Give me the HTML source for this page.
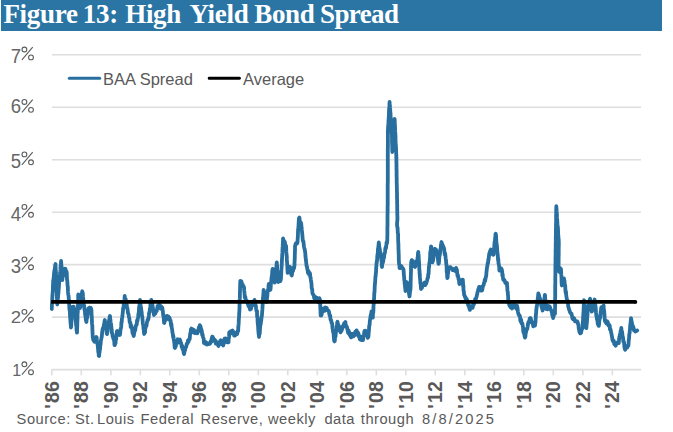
<!DOCTYPE html>
<html><head><meta charset="utf-8"><style>
html,body{margin:0;padding:0;background:#fff;}
body{width:673px;height:432px;position:relative;overflow:hidden;font-family:"Liberation Sans",sans-serif;}
.bar{position:absolute;left:1px;top:0;width:661px;height:31px;background:#2A75A4;}
.title{position:absolute;left:3px;top:-0.6px;font-family:"Liberation Serif",serif;font-weight:bold;font-size:27px;letter-spacing:-0.3px;color:#fff;white-space:nowrap;line-height:30px;}
svg{position:absolute;left:0;top:0;}
.yd{position:absolute;left:0;width:21.2px;text-align:right;font-size:16px;line-height:16px;height:16px;color:#666;transform-origin:21.2px 0;}
.yp{position:absolute;left:21.3px;font-size:18.5px;line-height:18.5px;height:18.5px;color:#5a5a5a;transform:scaleX(0.8);transform-origin:0 0;}
.xl{position:absolute;top:365.2px;width:60px;height:60px;line-height:60px;text-align:center;transform:rotate(-90deg);font-size:19.5px;font-weight:bold;color:#595959;}
.lg{position:absolute;top:68.5px;font-size:16.5px;line-height:20px;color:#595959;white-space:nowrap;}
.sw{position:absolute;top:409px;font-size:14.7px;letter-spacing:0.5px;line-height:20px;color:#595959;white-space:nowrap;}
</style></head><body>
<div class="bar"></div>
<span class="title" style="left:3.40px">Figure</span><span class="title" style="left:82.80px">13:</span><span class="title" style="left:125.20px">High</span><span class="title" style="left:189.40px">Yield</span><span class="title" style="left:254.20px">Bond</span><span class="title" style="left:320.00px;letter-spacing:-0.6px">Spread</span>
<svg width="673" height="432" viewBox="0 0 673 432">
<line x1="52" y1="317.13" x2="641" y2="317.13" stroke="#DEDEDE" stroke-width="1.6"/><line x1="52" y1="264.66" x2="641" y2="264.66" stroke="#DEDEDE" stroke-width="1.6"/><line x1="52" y1="212.19" x2="641" y2="212.19" stroke="#DEDEDE" stroke-width="1.6"/><line x1="52" y1="159.72" x2="641" y2="159.72" stroke="#DEDEDE" stroke-width="1.6"/><line x1="52" y1="107.25" x2="641" y2="107.25" stroke="#DEDEDE" stroke-width="1.6"/><line x1="52" y1="54.78" x2="641" y2="54.78" stroke="#DEDEDE" stroke-width="1.6"/>
<circle cx="24.4" cy="364.30" r="2.4" fill="none" stroke="#5a5a5a" stroke-width="1.1"/><circle cx="31" cy="372.20" r="2.4" fill="none" stroke="#5a5a5a" stroke-width="1.1"/><line x1="21.9" y1="374.70" x2="32.7" y2="362.00" stroke="#5a5a5a" stroke-width="1.1"/><circle cx="24.4" cy="311.83" r="2.4" fill="none" stroke="#5a5a5a" stroke-width="1.1"/><circle cx="31" cy="319.73" r="2.4" fill="none" stroke="#5a5a5a" stroke-width="1.1"/><line x1="21.9" y1="322.23" x2="32.7" y2="309.53" stroke="#5a5a5a" stroke-width="1.1"/><circle cx="24.4" cy="259.36" r="2.4" fill="none" stroke="#5a5a5a" stroke-width="1.1"/><circle cx="31" cy="267.26" r="2.4" fill="none" stroke="#5a5a5a" stroke-width="1.1"/><line x1="21.9" y1="269.76" x2="32.7" y2="257.06" stroke="#5a5a5a" stroke-width="1.1"/><circle cx="24.4" cy="206.89" r="2.4" fill="none" stroke="#5a5a5a" stroke-width="1.1"/><circle cx="31" cy="214.79" r="2.4" fill="none" stroke="#5a5a5a" stroke-width="1.1"/><line x1="21.9" y1="217.29" x2="32.7" y2="204.59" stroke="#5a5a5a" stroke-width="1.1"/><circle cx="24.4" cy="154.42" r="2.4" fill="none" stroke="#5a5a5a" stroke-width="1.1"/><circle cx="31" cy="162.32" r="2.4" fill="none" stroke="#5a5a5a" stroke-width="1.1"/><line x1="21.9" y1="164.82" x2="32.7" y2="152.12" stroke="#5a5a5a" stroke-width="1.1"/><circle cx="24.4" cy="101.95" r="2.4" fill="none" stroke="#5a5a5a" stroke-width="1.1"/><circle cx="31" cy="109.85" r="2.4" fill="none" stroke="#5a5a5a" stroke-width="1.1"/><line x1="21.9" y1="112.35" x2="32.7" y2="99.65" stroke="#5a5a5a" stroke-width="1.1"/><circle cx="24.4" cy="49.48" r="2.4" fill="none" stroke="#5a5a5a" stroke-width="1.1"/><circle cx="31" cy="57.38" r="2.4" fill="none" stroke="#5a5a5a" stroke-width="1.1"/><line x1="21.9" y1="59.88" x2="32.7" y2="47.18" stroke="#5a5a5a" stroke-width="1.1"/>
<line x1="52" y1="369.6" x2="641" y2="369.6" stroke="#DEDEDE" stroke-width="1.6"/>
<line x1="51.80" y1="369.6" x2="51.80" y2="375.3" stroke="#DEDEDE" stroke-width="1.6"/><line x1="81.30" y1="369.6" x2="81.30" y2="375.3" stroke="#DEDEDE" stroke-width="1.6"/><line x1="110.80" y1="369.6" x2="110.80" y2="375.3" stroke="#DEDEDE" stroke-width="1.6"/><line x1="140.30" y1="369.6" x2="140.30" y2="375.3" stroke="#DEDEDE" stroke-width="1.6"/><line x1="169.80" y1="369.6" x2="169.80" y2="375.3" stroke="#DEDEDE" stroke-width="1.6"/><line x1="199.30" y1="369.6" x2="199.30" y2="375.3" stroke="#DEDEDE" stroke-width="1.6"/><line x1="228.80" y1="369.6" x2="228.80" y2="375.3" stroke="#DEDEDE" stroke-width="1.6"/><line x1="258.30" y1="369.6" x2="258.30" y2="375.3" stroke="#DEDEDE" stroke-width="1.6"/><line x1="287.80" y1="369.6" x2="287.80" y2="375.3" stroke="#DEDEDE" stroke-width="1.6"/><line x1="317.30" y1="369.6" x2="317.30" y2="375.3" stroke="#DEDEDE" stroke-width="1.6"/><line x1="346.80" y1="369.6" x2="346.80" y2="375.3" stroke="#DEDEDE" stroke-width="1.6"/><line x1="376.30" y1="369.6" x2="376.30" y2="375.3" stroke="#DEDEDE" stroke-width="1.6"/><line x1="405.80" y1="369.6" x2="405.80" y2="375.3" stroke="#DEDEDE" stroke-width="1.6"/><line x1="435.30" y1="369.6" x2="435.30" y2="375.3" stroke="#DEDEDE" stroke-width="1.6"/><line x1="464.80" y1="369.6" x2="464.80" y2="375.3" stroke="#DEDEDE" stroke-width="1.6"/><line x1="494.30" y1="369.6" x2="494.30" y2="375.3" stroke="#DEDEDE" stroke-width="1.6"/><line x1="523.80" y1="369.6" x2="523.80" y2="375.3" stroke="#DEDEDE" stroke-width="1.6"/><line x1="553.30" y1="369.6" x2="553.30" y2="375.3" stroke="#DEDEDE" stroke-width="1.6"/><line x1="582.80" y1="369.6" x2="582.80" y2="375.3" stroke="#DEDEDE" stroke-width="1.6"/><line x1="612.30" y1="369.6" x2="612.30" y2="375.3" stroke="#DEDEDE" stroke-width="1.6"/>
<path d="M51.8,309.0 L51.9,305.6 L52.0,303.2 L52.1,302.3 L52.2,300.7 L52.3,298.4 L52.4,295.0 L52.5,295.7 L52.7,291.4 L52.8,292.1 L52.9,287.9 L53.0,284.5 L53.1,283.3 L53.2,280.6 L53.3,280.0 L53.5,279.4 L53.8,276.8 L54.0,274.2 L54.3,271.2 L54.5,270.0 L54.8,269.1 L55.0,267.9 L55.3,265.0 L55.5,264.0 L55.6,266.8 L55.7,268.3 L55.8,271.5 L55.9,271.3 L56.0,272.7 L56.0,277.1 L56.1,278.1 L56.2,280.8 L56.3,282.5 L56.4,283.5 L56.5,286.6 L56.6,288.1 L56.7,292.0 L56.8,293.0 L56.8,295.1 L56.9,298.3 L57.0,297.6 L57.1,301.1 L57.2,302.3 L57.3,304.5 L57.5,301.1 L57.6,301.6 L57.8,297.7 L58.0,298.1 L58.1,294.6 L58.3,294.3 L58.5,292.2 L58.7,288.6 L58.8,288.4 L59.0,285.0 L59.2,281.7 L59.4,280.0 L59.5,278.9 L59.7,276.1 L59.9,274.7 L60.0,273.3 L60.2,271.7 L60.4,269.4 L60.6,265.3 L60.8,266.1 L60.9,264.1 L61.1,261.0 L61.2,262.7 L61.4,265.7 L61.5,265.7 L61.6,268.2 L61.8,269.9 L61.9,272.3 L62.0,275.3 L62.2,279.3 L62.3,280.0 L62.6,277.1 L62.9,276.3 L63.2,273.9 L63.6,275.6 L63.9,272.1 L64.2,269.1 L64.5,269.0 L65.0,268.7 L65.5,269.0 L66.0,272.6 L66.5,271.5 L66.7,272.2 L66.8,273.7 L67.0,279.3 L67.2,280.3 L67.3,281.0 L67.5,284.6 L67.7,286.6 L67.8,286.5 L68.0,291.4 L68.1,292.7 L68.3,294.5 L68.5,295.7 L68.6,295.8 L68.8,299.6 L69.0,300.8 L69.1,304.3 L69.3,305.4 L69.4,309.4 L69.6,309.0 L69.7,310.5 L69.9,312.4 L70.1,317.1 L70.2,317.5 L70.4,320.7 L70.5,322.1 L70.7,324.6 L70.8,325.4 L71.0,327.5 L71.2,326.5 L71.3,324.5 L71.5,321.0 L71.6,321.0 L71.8,316.0 L71.9,313.9 L72.0,314.3 L72.2,312.3 L72.3,309.6 L72.5,307.0 L73.1,307.9 L73.7,306.7 L74.2,309.8 L74.8,310.0 L75.0,313.5 L75.2,315.2 L75.3,314.6 L75.5,316.8 L75.7,319.8 L75.9,321.0 L76.1,324.8 L76.3,325.0 L76.5,328.6 L76.6,330.5 L76.8,330.9 L77.0,332.7 L77.1,328.9 L77.1,327.5 L77.2,327.8 L77.3,324.5 L77.3,322.8 L77.4,320.6 L77.5,319.6 L77.5,316.8 L77.6,313.7 L77.7,312.5 L77.8,311.5 L77.8,308.2 L77.9,306.4 L78.0,305.1 L78.0,302.5 L78.1,302.0 L78.2,299.8 L78.2,295.4 L78.3,294.3 L78.5,297.9 L78.8,296.8 L79.0,300.0 L79.3,301.1 L79.5,304.7 L79.8,307.6 L80.0,308.0 L80.3,307.0 L80.5,302.9 L80.8,304.2 L81.0,302.3 L81.3,298.7 L81.5,298.1 L81.8,294.8 L82.0,292.5 L82.3,291.3 L82.5,292.5 L82.8,293.2 L83.0,296.7 L83.2,298.1 L83.4,300.7 L83.7,304.4 L83.9,306.2 L84.1,305.4 L84.4,309.2 L84.6,310.0 L84.9,310.6 L85.2,315.6 L85.5,315.1 L85.8,319.6 L86.1,320.8 L86.4,322.0 L86.7,318.4 L86.9,317.9 L87.2,317.9 L87.5,315.5 L87.8,313.8 L88.0,311.9 L88.3,308.6 L88.8,308.1 L89.3,310.5 L89.8,307.5 L90.3,308.1 L90.8,307.9 L91.3,309.3 L91.4,310.2 L91.5,312.5 L91.6,314.5 L91.7,316.0 L91.8,317.4 L91.9,319.4 L92.0,323.4 L92.2,325.1 L92.3,325.7 L92.4,329.0 L92.5,332.5 L92.6,333.2 L92.7,337.0 L92.8,337.2 L93.3,340.0 L93.9,340.7 L94.4,341.7 L94.9,339.9 L95.4,337.9 L95.9,339.1 L96.4,337.0 L96.7,337.6 L96.9,342.1 L97.2,343.3 L97.5,343.6 L97.8,346.3 L98.0,348.2 L98.3,352.1 L98.6,352.4 L98.8,355.9 L99.1,356.0 L99.3,353.5 L99.6,351.7 L99.8,350.3 L100.1,348.4 L100.3,345.5 L100.6,344.1 L100.8,340.8 L101.1,339.7 L101.3,338.9 L101.6,337.4 L101.8,336.4 L102.1,333.0 L102.4,330.7 L102.8,328.4 L103.1,328.7 L103.4,327.8 L103.8,325.4 L104.1,324.4 L104.5,321.7 L104.8,320.0 L105.1,323.0 L105.3,324.7 L105.6,326.7 L105.9,327.7 L106.2,327.0 L106.5,330.0 L106.7,333.5 L107.0,334.0 L107.3,332.7 L107.6,331.1 L107.9,326.7 L108.2,327.7 L108.5,325.1 L108.8,321.6 L109.1,320.5 L109.4,318.7 L109.7,316.7 L110.0,316.0 L110.2,319.7 L110.4,319.3 L110.6,322.4 L110.8,324.0 L111.1,323.8 L111.3,326.4 L111.5,328.5 L111.7,329.3 L111.9,333.0 L112.3,333.6 L112.7,336.7 L113.0,336.7 L113.4,338.9 L113.8,339.1 L114.2,340.9 L114.5,345.2 L114.9,345.0 L115.2,343.1 L115.5,343.3 L115.8,338.9 L116.1,339.7 L116.3,336.6 L116.6,334.6 L116.9,331.4 L117.2,331.0 L117.7,331.8 L118.3,333.4 L118.8,334.9 L119.4,332.4 L119.9,335.0 L120.2,333.0 L120.4,330.4 L120.7,328.6 L120.9,328.6 L121.2,326.4 L121.4,322.0 L121.7,322.4 L121.9,318.8 L122.2,317.3 L122.4,315.8 L122.6,314.2 L122.9,311.6 L123.1,308.1 L123.3,309.2 L123.6,307.6 L123.8,303.0 L124.0,300.8 L124.2,301.7 L124.5,299.2 L124.7,296.0 L125.0,299.2 L125.4,299.5 L125.7,299.2 L126.0,302.4 L126.3,304.8 L126.7,304.1 L127.0,307.5 L127.3,307.8 L127.7,310.2 L128.0,313.4 L128.3,313.3 L128.7,315.1 L129.0,317.1 L129.3,317.9 L129.7,322.4 L130.0,322.5 L130.4,322.8 L130.7,327.1 L131.1,325.2 L131.5,326.3 L131.8,327.7 L132.2,329.7 L132.6,333.4 L133.0,333.0 L133.3,334.7 L133.7,336.0 L134.1,333.8 L134.4,332.0 L134.8,329.9 L135.2,330.3 L135.6,327.1 L135.9,325.7 L136.3,324.9 L136.7,324.9 L137.1,320.2 L137.4,321.2 L137.8,318.8 L138.2,317.3 L138.4,313.5 L138.6,315.1 L138.8,312.9 L139.0,308.7 L139.2,306.4 L139.4,306.5 L139.6,304.7 L139.8,302.9 L140.0,300.0 L140.2,302.1 L140.5,304.9 L140.7,307.3 L140.9,306.8 L141.2,308.5 L141.4,312.1 L141.6,311.6 L141.9,315.4 L142.1,315.9 L142.3,317.0 L142.6,320.6 L142.8,323.2 L143.0,324.5 L143.3,325.5 L143.5,329.1 L143.7,328.4 L144.0,332.8 L144.2,334.0 L144.6,331.6 L145.0,332.6 L145.3,327.7 L145.7,327.7 L146.1,325.4 L146.5,325.9 L146.9,322.4 L147.3,321.3 L147.7,319.5 L148.0,320.0 L148.4,319.2 L148.8,316.0 L149.1,313.0 L149.4,312.1 L149.6,312.4 L149.9,308.5 L150.2,308.9 L150.5,303.6 L150.7,303.2 L151.0,303.2 L151.3,300.0 L151.6,303.6 L151.9,302.7 L152.2,306.7 L152.5,304.9 L152.8,307.9 L153.1,309.4 L153.4,309.8 L153.7,312.8 L154.0,315.0 L154.4,312.7 L154.9,312.1 L155.3,313.5 L155.8,311.1 L156.2,310.4 L156.7,311.2 L157.2,308.2 L157.6,306.0 L158.1,308.1 L158.5,306.0 L159.0,304.5 L159.6,304.9 L160.1,305.8 L160.7,308.5 L161.2,306.4 L161.8,308.0 L162.3,307.8 L162.6,310.5 L162.8,310.7 L163.1,314.5 L163.3,315.9 L163.6,315.5 L163.8,319.1 L164.1,322.8 L164.3,323.0 L164.7,320.9 L165.1,320.6 L165.6,318.3 L166.0,319.2 L166.4,318.2 L166.8,316.0 L167.3,316.0 L167.9,316.8 L168.4,316.4 L169.0,319.6 L169.5,317.6 L170.1,320.1 L170.6,320.6 L170.9,324.1 L171.2,325.8 L171.4,324.0 L171.7,327.3 L172.0,328.8 L172.2,330.3 L172.5,333.0 L172.8,334.0 L173.1,337.1 L173.4,336.1 L173.6,338.5 L173.9,340.5 L174.2,341.6 L174.4,343.5 L174.7,347.7 L175.0,348.0 L175.4,345.5 L175.8,346.3 L176.2,341.6 L176.6,340.8 L177.1,341.4 L177.7,339.3 L178.2,342.0 L178.7,342.4 L179.2,340.0 L179.8,339.6 L180.3,340.8 L180.7,342.4 L181.1,343.0 L181.4,344.6 L181.8,347.1 L182.2,345.9 L182.6,349.2 L183.0,349.5 L183.3,350.2 L183.7,353.1 L184.1,354.0 L184.5,351.4 L185.0,350.4 L185.4,348.4 L185.8,347.0 L186.2,346.9 L186.7,343.7 L187.1,343.8 L187.6,343.1 L188.0,340.4 L188.5,341.8 L188.9,339.4 L189.4,339.3 L189.7,339.1 L190.0,335.6 L190.3,333.1 L190.6,333.3 L190.9,329.5 L191.4,328.6 L191.9,328.9 L192.4,331.8 L192.9,331.8 L193.4,332.2 L193.9,329.8 L194.4,331.5 L194.9,333.1 L195.4,332.3 L195.9,332.1 L196.4,331.5 L196.9,332.6 L197.4,333.3 L197.9,330.7 L198.4,331.5 L198.8,327.4 L199.3,329.7 L199.8,325.2 L200.3,326.0 L200.7,327.1 L201.0,329.5 L201.4,329.3 L201.8,331.1 L202.2,335.0 L202.5,334.1 L202.9,336.4 L203.3,337.9 L203.7,338.9 L204.0,343.0 L204.4,343.0 L205.0,343.6 L205.6,342.0 L206.1,342.7 L206.7,344.5 L207.2,344.5 L207.8,343.3 L208.3,344.2 L208.8,344.2 L209.3,343.2 L209.9,343.7 L210.4,343.0 L210.9,340.8 L211.3,341.7 L211.8,338.2 L212.2,336.7 L212.7,337.0 L213.2,338.0 L213.7,339.3 L214.2,340.8 L214.7,339.7 L215.3,340.4 L215.8,343.7 L216.3,341.5 L216.8,343.3 L217.4,343.0 L217.9,345.0 L218.4,346.0 L218.8,344.5 L219.3,344.3 L219.7,343.4 L220.2,340.8 L220.7,340.3 L221.2,344.0 L221.7,342.6 L222.2,342.6 L222.7,343.9 L223.2,345.5 L223.6,342.4 L223.9,343.6 L224.3,339.4 L224.7,338.6 L225.2,338.4 L225.8,338.4 L226.3,341.8 L226.9,342.2 L227.4,342.3 L228.0,341.9 L228.5,342.3 L228.6,339.8 L228.8,338.6 L228.9,337.9 L229.1,336.4 L229.2,332.6 L229.7,332.1 L230.3,331.5 L230.8,332.6 L231.4,333.3 L231.9,330.9 L232.5,330.4 L233.0,332.0 L233.6,331.9 L234.1,335.6 L234.6,335.2 L235.2,335.5 L235.7,332.9 L236.2,332.7 L236.7,333.0 L237.2,334.0 L237.7,330.7 L238.2,331.0 L238.3,327.1 L238.4,326.2 L238.6,324.2 L238.7,322.9 L238.8,319.4 L238.9,318.3 L239.0,318.0 L239.2,312.9 L239.3,312.6 L239.4,310.0 L239.5,309.0 L239.5,305.0 L239.6,304.3 L239.7,301.1 L239.7,299.4 L239.8,298.5 L239.9,297.0 L239.9,293.5 L240.0,290.4 L240.0,290.3 L240.1,287.4 L240.2,283.8 L240.2,283.5 L240.3,281.0 L240.8,282.2 L241.3,281.2 L241.7,282.3 L242.2,285.3 L242.7,284.5 L243.3,286.6 L244.0,287.0 L244.2,290.4 L244.3,291.1 L244.5,293.2 L244.6,294.0 L244.8,297.6 L245.3,296.8 L245.8,300.5 L246.3,301.9 L246.8,300.7 L247.3,302.4 L247.8,303.6 L248.2,304.9 L248.7,306.5 L249.1,306.1 L249.6,306.5 L250.0,309.5 L250.5,307.4 L251.0,309.0 L251.5,305.6 L252.0,304.5 L252.5,305.6 L253.0,303.0 L253.5,302.7 L254.0,302.7 L254.5,299.8 L254.8,302.7 L255.2,304.4 L255.5,305.5 L255.8,305.5 L256.1,308.3 L256.5,311.0 L256.8,311.0 L257.0,311.2 L257.1,316.6 L257.3,315.6 L257.5,317.3 L257.6,321.5 L257.8,323.9 L258.0,325.3 L258.2,328.2 L258.3,330.5 L258.5,332.4 L258.7,334.7 L258.8,333.9 L259.0,337.0 L259.2,333.4 L259.5,334.4 L259.8,332.6 L260.0,328.7 L260.2,326.1 L260.5,324.6 L260.8,323.6 L261.0,321.1 L261.2,320.9 L261.5,317.6 L261.8,316.4 L262.0,314.5 L262.1,312.9 L262.3,310.1 L262.4,309.4 L262.5,307.1 L262.7,303.2 L262.8,300.7 L262.9,299.0 L263.1,297.0 L263.2,297.9 L263.3,294.0 L263.5,293.2 L263.6,290.0 L264.0,291.5 L264.4,294.3 L264.7,296.2 L265.1,294.9 L265.5,297.5 L265.9,299.5 L266.2,301.6 L266.6,302.0 L266.8,301.3 L267.0,297.9 L267.3,296.2 L267.5,293.2 L267.7,291.2 L267.9,290.3 L268.1,289.4 L268.4,289.1 L268.6,285.7 L268.8,284.0 L269.2,286.5 L269.6,287.6 L269.9,287.8 L270.3,290.0 L270.5,289.4 L270.7,287.1 L270.9,284.0 L271.1,282.7 L271.3,280.3 L271.6,277.5 L271.8,275.9 L272.0,276.0 L272.2,271.5 L272.4,270.3 L272.6,269.0 L272.9,269.4 L273.2,271.2 L273.4,275.0 L273.7,277.6 L274.0,277.1 L274.2,280.3 L274.5,280.7 L274.8,282.6 L275.0,281.1 L275.2,277.4 L275.4,274.7 L275.6,275.6 L275.8,272.5 L276.0,270.3 L276.2,268.8 L276.4,267.3 L276.6,264.1 L276.8,262.3 L276.9,265.2 L277.1,265.2 L277.2,269.7 L277.4,270.9 L277.6,272.8 L277.7,273.9 L277.9,276.6 L278.0,277.8 L278.2,280.8 L278.3,282.0 L278.8,280.4 L279.3,280.5 L279.9,279.7 L280.4,281.1 L280.9,278.8 L281.0,277.4 L281.1,274.3 L281.2,274.6 L281.3,270.9 L281.4,269.8 L281.6,266.8 L281.7,265.0 L281.8,263.5 L281.9,261.2 L282.0,258.7 L282.1,258.3 L282.2,255.3 L282.3,253.6 L282.4,252.4 L282.6,246.9 L282.7,246.2 L282.8,244.2 L282.9,243.3 L283.0,239.6 L283.1,238.5 L283.5,240.5 L284.0,240.7 L284.4,242.9 L284.8,241.7 L285.2,244.9 L285.7,245.4 L286.1,246.0 L286.2,248.3 L286.3,251.9 L286.4,252.7 L286.6,255.4 L286.7,255.5 L286.8,256.9 L286.9,259.9 L287.0,261.6 L287.1,263.6 L287.3,265.4 L287.4,269.5 L287.5,269.8 L287.6,272.8 L288.1,271.5 L288.5,270.9 L289.0,268.7 L289.4,269.3 L289.9,266.8 L290.2,269.7 L290.5,271.2 L290.8,273.0 L291.1,271.5 L291.4,275.0 L291.8,275.4 L292.3,271.5 L292.7,269.8 L293.1,270.9 L293.5,267.3 L294.0,268.4 L294.4,266.0 L294.5,265.5 L294.5,263.1 L294.6,261.5 L294.7,259.3 L294.8,256.7 L294.8,254.9 L294.9,253.5 L295.0,249.1 L295.0,246.6 L295.1,246.0 L295.7,243.6 L296.2,243.1 L296.8,243.7 L297.4,243.0 L297.5,242.3 L297.6,240.2 L297.8,237.1 L297.9,236.1 L298.0,232.4 L298.1,229.0 L298.3,229.1 L298.4,227.0 L298.5,226.1 L298.6,224.2 L298.8,220.3 L298.9,218.3 L299.4,217.6 L299.8,220.9 L300.3,222.8 L300.7,222.4 L301.2,223.5 L301.4,226.5 L301.6,227.1 L301.8,229.5 L301.9,230.4 L302.1,232.8 L302.3,234.2 L302.5,237.0 L302.8,240.5 L303.1,241.5 L303.4,241.4 L303.7,244.1 L304.0,246.6 L304.3,248.0 L304.6,249.1 L304.9,250.6 L305.1,251.8 L305.3,253.3 L305.5,256.8 L305.8,259.4 L306.0,260.6 L306.2,262.6 L306.4,264.4 L306.6,266.0 L307.0,266.7 L307.3,269.3 L307.6,269.7 L308.0,273.0 L308.6,271.2 L309.2,274.6 L309.8,273.0 L310.1,274.3 L310.4,277.8 L310.6,277.6 L310.9,280.0 L311.2,281.9 L311.5,284.0 L311.7,287.9 L311.9,288.8 L312.2,289.3 L312.4,293.0 L312.9,294.2 L313.3,294.6 L313.8,295.3 L314.2,298.3 L314.7,297.6 L315.2,298.0 L315.7,297.1 L316.2,298.0 L316.7,297.8 L317.2,300.8 L317.7,300.6 L318.3,302.2 L318.9,301.6 L319.4,298.2 L320.0,299.8 L320.1,301.1 L320.2,303.1 L320.3,307.6 L320.4,310.1 L320.5,309.4 L320.6,314.1 L320.7,315.5 L321.2,315.6 L321.7,314.3 L322.2,311.0 L322.7,308.8 L323.2,310.9 L323.7,308.4 L324.2,310.5 L324.7,310.7 L325.2,307.3 L325.7,309.0 L326.2,309.0 L326.7,308.0 L327.3,310.1 L327.9,310.5 L328.4,310.6 L329.0,311.9 L329.4,314.4 L329.8,315.8 L330.1,315.3 L330.5,319.3 L330.9,320.1 L331.2,320.6 L331.6,322.9 L332.0,323.0 L332.2,324.1 L332.5,328.2 L332.8,329.2 L333.0,331.9 L333.2,331.4 L333.5,333.1 L333.8,336.2 L334.0,339.2 L334.2,340.8 L334.5,341.4 L334.8,341.0 L335.0,337.0 L335.3,337.2 L335.6,335.8 L335.9,330.9 L336.1,331.8 L336.4,329.9 L336.7,326.1 L337.0,326.0 L337.2,322.5 L337.5,321.8 L337.9,324.1 L338.2,324.3 L338.6,326.9 L339.0,326.1 L339.4,329.9 L339.8,329.8 L340.1,331.4 L340.5,332.4 L340.9,330.3 L341.4,331.2 L341.9,329.7 L342.3,328.5 L342.8,325.8 L343.2,326.0 L343.6,326.0 L344.1,323.3 L344.6,323.0 L345.0,322.6 L345.4,322.0 L345.9,326.9 L346.4,326.1 L346.8,326.5 L347.2,328.3 L347.7,330.8 L348.1,332.8 L348.6,330.4 L349.1,332.2 L349.5,334.6 L350.1,333.2 L350.6,336.7 L351.2,337.3 L351.8,336.0 L352.3,333.9 L352.8,334.7 L353.4,336.4 L353.9,334.5 L354.4,335.5 L354.9,333.0 L355.4,331.6 L356.0,334.3 L356.5,330.3 L357.0,331.6 L357.5,332.1 L357.9,335.3 L358.4,333.1 L358.8,336.6 L359.3,336.9 L359.8,339.2 L360.4,336.4 L360.9,339.9 L361.4,337.9 L361.9,340.1 L362.5,338.9 L363.0,340.0 L363.4,336.8 L363.8,335.1 L364.1,333.2 L364.5,330.9 L364.9,331.0 L365.4,330.7 L365.9,334.3 L366.4,335.2 L366.8,335.9 L367.3,335.1 L367.8,337.8 L368.3,337.0 L368.5,335.6 L368.7,332.5 L368.9,331.1 L369.1,327.9 L369.2,325.6 L369.4,325.6 L369.6,324.8 L369.8,321.5 L370.1,319.5 L370.4,317.2 L370.6,315.8 L370.9,314.7 L371.2,314.5 L371.5,311.3 L371.8,314.7 L372.1,316.0 L372.5,315.0 L372.8,317.7 L372.9,314.8 L373.1,312.3 L373.2,313.2 L373.4,310.8 L373.5,306.3 L373.7,303.3 L373.8,302.1 L374.0,298.9 L374.1,298.6 L374.2,295.9 L374.3,292.5 L374.5,292.4 L374.6,290.0 L374.7,287.0 L374.8,286.0 L375.0,282.7 L375.1,283.2 L375.3,279.1 L375.4,276.8 L375.6,276.4 L375.8,273.4 L375.9,273.4 L376.1,271.0 L376.2,267.1 L376.4,266.5 L376.5,263.2 L376.7,263.0 L376.9,260.5 L377.1,260.7 L377.3,255.6 L377.5,255.5 L377.7,252.8 L377.8,253.1 L378.0,248.7 L378.2,248.5 L378.4,246.3 L378.6,244.4 L378.8,242.5 L379.1,245.2 L379.4,247.7 L379.8,249.0 L380.1,251.1 L380.4,252.0 L380.6,255.3 L380.8,255.7 L381.0,257.7 L381.2,257.7 L381.4,260.3 L381.6,261.7 L381.8,266.3 L382.0,267.0 L382.3,263.8 L382.7,262.5 L383.0,262.4 L383.3,260.4 L383.7,257.2 L384.0,257.8 L384.3,253.9 L384.7,253.7 L385.0,252.0 L385.3,248.8 L385.7,247.2 L386.0,248.2 L386.3,245.4 L386.6,242.2 L387.0,243.4 L387.3,240.0 L387.3,237.7 L387.3,236.1 L387.4,235.7 L387.4,231.4 L387.4,229.4 L387.4,229.8 L387.4,227.6 L387.5,225.3 L387.5,222.1 L387.5,221.7 L387.5,217.7 L387.5,215.5 L387.6,212.4 L387.6,212.0 L387.6,208.6 L387.6,209.1 L387.6,206.5 L387.7,205.5 L387.7,200.2 L387.7,200.0 L387.7,197.1 L387.7,195.1 L387.7,195.5 L387.7,190.9 L387.7,189.6 L387.7,187.0 L387.7,186.4 L387.7,184.1 L387.8,181.8 L387.8,179.6 L387.8,176.3 L387.8,174.2 L387.8,173.3 L387.8,170.6 L387.8,169.7 L387.8,167.9 L387.8,166.1 L387.8,164.3 L387.8,161.6 L387.8,159.3 L387.8,156.4 L387.8,155.4 L387.8,153.6 L387.8,150.7 L387.8,148.3 L387.9,147.2 L387.9,147.1 L387.9,144.2 L387.9,139.5 L387.9,138.9 L387.9,136.7 L387.9,136.0 L387.9,132.0 L387.9,131.0 L388.0,129.8 L388.1,126.2 L388.3,125.4 L388.4,124.0 L388.5,120.6 L388.6,119.4 L388.8,116.3 L388.9,115.1 L389.0,110.8 L389.1,108.3 L389.2,108.4 L389.4,107.7 L389.5,103.6 L389.6,101.8 L389.7,105.2 L389.9,105.4 L390.0,107.7 L390.2,109.1 L390.3,112.1 L390.5,113.2 L390.6,117.2 L390.8,117.7 L390.9,119.2 L391.0,122.2 L391.2,122.4 L391.3,125.3 L391.5,129.2 L391.6,128.9 L391.8,133.5 L391.9,134.0 L391.9,134.3 L392.0,138.0 L392.0,141.0 L392.1,143.9 L392.1,144.1 L392.2,145.6 L392.2,148.4 L392.3,151.7 L392.3,152.0 L392.4,150.2 L392.6,147.6 L392.7,146.4 L392.8,145.7 L393.0,142.2 L393.1,140.8 L393.2,137.8 L393.4,137.7 L393.5,133.8 L393.7,133.8 L393.8,129.2 L393.9,129.4 L394.1,128.6 L394.2,124.5 L394.3,122.1 L394.5,121.0 L394.6,119.0 L394.7,119.8 L394.8,123.4 L394.9,126.9 L395.0,125.3 L395.1,130.1 L395.2,131.7 L395.3,132.3 L395.4,135.3 L395.5,135.8 L395.5,139.2 L395.6,141.6 L395.7,144.9 L395.8,144.7 L395.9,145.7 L396.0,147.5 L396.1,149.7 L396.2,154.2 L396.3,155.0 L396.3,158.2 L396.4,157.2 L396.4,160.4 L396.4,162.6 L396.5,164.3 L396.5,168.7 L396.5,168.6 L396.6,170.8 L396.6,174.8 L396.6,177.1 L396.7,177.8 L396.7,177.6 L396.7,182.8 L396.8,185.0 L396.8,184.7 L396.9,189.2 L396.9,191.2 L396.9,191.1 L397.0,192.5 L397.0,197.1 L397.0,198.8 L397.1,198.4 L397.1,200.5 L397.1,203.0 L397.2,204.3 L397.2,207.4 L397.2,208.2 L397.3,213.1 L397.3,212.9 L397.3,215.1 L397.4,216.2 L397.4,220.0 L397.2,221.4 L397.0,224.0 L397.2,226.7 L397.4,226.9 L397.6,228.3 L397.8,232.9 L398.0,233.5 L398.1,234.2 L398.1,238.3 L398.2,241.2 L398.3,243.2 L398.3,242.4 L398.4,244.0 L398.4,246.5 L398.5,249.7 L398.6,250.4 L398.6,252.3 L398.7,253.9 L398.8,257.5 L398.8,260.3 L398.9,261.3 L399.1,264.1 L399.4,265.0 L399.6,268.0 L400.2,265.8 L400.7,268.0 L401.3,266.0 L401.8,267.4 L402.3,267.7 L402.8,268.3 L403.3,269.0 L403.5,269.4 L403.7,272.0 L403.9,275.8 L404.1,276.6 L404.3,280.0 L404.5,281.0 L404.7,284.4 L404.9,284.2 L405.1,287.7 L405.3,288.4 L405.5,291.0 L405.8,289.4 L406.0,285.5 L406.2,283.7 L406.5,282.0 L406.9,282.5 L407.2,287.1 L407.6,288.1 L408.0,289.0 L408.4,289.1 L408.8,291.6 L409.1,294.2 L409.5,296.5 L409.8,293.9 L410.0,291.5 L410.2,291.1 L410.5,289.0 L410.6,286.0 L410.6,285.5 L410.7,280.9 L410.7,281.7 L410.8,276.9 L410.8,276.9 L410.9,273.5 L410.9,273.5 L411.0,271.9 L411.0,266.7 L411.1,265.7 L411.1,265.3 L411.2,262.0 L411.8,260.1 L412.4,261.0 L413.0,261.0 L413.4,262.9 L413.8,264.7 L414.2,264.4 L414.6,266.6 L415.0,267.0 L415.5,265.8 L416.0,263.1 L416.5,261.5 L417.0,262.0 L417.3,261.2 L417.5,258.2 L417.8,256.5 L418.0,253.0 L418.3,252.0 L418.4,253.5 L418.6,254.9 L418.7,256.6 L418.8,260.6 L419.0,261.0 L419.1,263.8 L419.2,265.4 L419.3,269.5 L419.5,270.2 L419.6,273.2 L419.7,275.0 L419.9,276.6 L420.0,278.0 L420.2,280.1 L420.4,283.7 L420.6,283.8 L420.8,285.7 L421.0,289.0 L421.5,287.2 L422.0,287.8 L422.5,284.5 L423.0,285.0 L423.6,284.7 L424.1,283.3 L424.7,282.5 L425.2,285.2 L425.8,284.0 L426.2,283.6 L426.7,281.8 L427.1,280.4 L427.6,278.0 L428.0,278.0 L428.2,274.2 L428.4,274.6 L428.6,273.7 L428.8,269.2 L428.9,266.8 L429.1,267.2 L429.3,263.4 L429.5,262.8 L429.7,261.9 L429.9,259.4 L430.1,257.3 L430.2,253.2 L430.4,251.7 L430.6,250.6 L430.8,249.7 L431.0,246.5 L431.2,246.7 L431.4,250.9 L431.6,253.2 L431.8,256.1 L431.9,256.4 L432.1,257.6 L432.3,258.7 L432.5,262.3 L432.8,259.3 L433.1,260.7 L433.4,255.5 L433.6,254.4 L433.9,252.0 L434.2,253.5 L434.5,250.2 L434.8,248.8 L435.3,249.9 L435.8,249.5 L436.3,250.3 L436.6,251.8 L436.9,254.9 L437.1,254.1 L437.4,256.8 L437.7,258.2 L437.9,258.8 L438.2,262.0 L438.5,263.8 L438.8,263.5 L439.0,262.0 L439.2,258.8 L439.5,254.9 L439.8,255.1 L440.0,253.2 L440.2,251.0 L440.5,248.5 L440.8,248.9 L441.0,244.5 L441.2,243.6 L441.5,242.0 L442.0,243.8 L442.4,244.7 L442.9,245.7 L443.3,246.4 L443.8,248.0 L444.1,248.5 L444.4,251.6 L444.7,254.5 L445.1,253.3 L445.4,255.6 L445.7,258.5 L446.0,260.0 L446.1,262.3 L446.3,264.1 L446.4,264.4 L446.6,266.4 L446.7,271.4 L446.9,272.8 L447.0,272.5 L447.2,276.8 L447.3,278.0 L447.6,277.5 L447.9,273.3 L448.1,273.0 L448.4,269.7 L448.7,267.7 L449.0,267.6 L449.5,267.3 L450.0,268.3 L450.5,267.3 L451.0,267.9 L451.6,268.8 L452.1,268.8 L452.6,270.1 L453.1,269.8 L453.6,269.0 L454.1,270.1 L454.6,270.5 L455.1,268.9 L455.6,271.2 L456.1,267.9 L456.6,269.8 L456.9,269.9 L457.3,274.1 L457.6,276.1 L457.9,275.2 L458.3,277.5 L458.6,279.6 L458.9,279.0 L459.3,283.6 L459.6,284.0 L460.1,283.5 L460.6,283.2 L461.1,280.4 L461.6,281.2 L462.1,281.5 L462.6,279.6 L462.8,279.7 L463.0,282.1 L463.2,286.8 L463.4,285.5 L463.5,290.4 L463.7,290.7 L463.9,291.8 L464.1,295.0 L464.6,295.5 L465.0,297.2 L465.5,297.1 L465.9,300.1 L466.4,299.5 L466.8,299.1 L467.3,301.5 L467.7,303.6 L468.1,304.1 L468.5,306.2 L469.0,305.4 L469.4,308.5 L469.9,309.9 L470.5,306.3 L471.0,306.4 L471.5,306.8 L472.0,306.7 L472.6,307.8 L473.1,305.6 L473.5,302.7 L473.9,304.3 L474.4,303.1 L474.8,301.4 L475.2,298.9 L475.6,300.0 L476.1,298.0 L476.5,297.2 L476.9,295.0 L477.3,293.7 L477.6,291.7 L478.0,290.5 L478.4,288.9 L478.7,290.0 L479.1,286.8 L479.6,286.9 L480.1,287.0 L480.6,287.3 L481.1,290.7 L481.6,289.7 L482.1,290.5 L482.5,288.4 L482.9,286.1 L483.2,285.6 L483.6,285.1 L484.0,282.9 L484.4,282.5 L484.8,279.5 L485.1,281.2 L485.5,279.0 L485.9,276.6 L486.2,276.2 L486.4,272.9 L486.7,270.2 L487.0,267.4 L487.3,266.5 L487.5,264.5 L487.8,262.5 L488.1,263.2 L488.4,258.8 L488.6,259.9 L488.9,256.3 L489.3,253.3 L489.7,255.0 L490.1,250.8 L490.5,251.0 L490.9,249.5 L491.4,251.1 L491.9,250.5 L492.4,253.6 L492.9,253.4 L493.4,254.8 L493.6,252.3 L493.8,250.7 L494.0,249.6 L494.2,247.1 L494.4,244.3 L494.7,241.5 L494.9,241.7 L495.1,237.8 L495.3,238.5 L495.5,234.2 L495.7,233.8 L495.9,234.4 L496.1,236.1 L496.2,239.3 L496.4,241.9 L496.6,244.1 L496.8,244.8 L497.0,246.4 L497.2,250.3 L497.3,250.5 L497.5,254.9 L497.7,254.2 L497.9,257.0 L498.1,260.6 L498.3,259.0 L498.5,263.4 L498.8,264.2 L499.0,265.7 L499.2,267.1 L499.4,270.6 L500.0,268.8 L500.5,269.9 L501.1,268.3 L501.7,269.1 L501.9,270.3 L502.2,271.4 L502.4,276.0 L502.7,274.3 L502.9,276.9 L503.2,279.6 L503.7,280.1 L504.3,280.0 L504.8,280.9 L505.4,283.1 L505.9,282.9 L506.5,283.1 L507.0,283.0 L507.1,286.3 L507.3,287.2 L507.4,290.5 L507.6,291.3 L507.8,291.9 L507.9,294.5 L508.1,295.6 L508.2,299.2 L508.4,302.5 L508.5,302.6 L509.0,303.7 L509.5,305.7 L510.0,304.3 L510.5,307.3 L511.0,306.3 L511.5,307.8 L512.0,308.5 L512.6,307.0 L513.2,305.4 L513.7,304.8 L514.2,306.7 L514.8,307.1 L515.3,307.1 L515.9,305.3 L516.4,308.8 L517.0,305.6 L517.5,307.8 L517.9,311.5 L518.2,313.1 L518.6,314.3 L519.0,315.3 L519.4,315.2 L519.9,316.1 L520.3,320.4 L520.7,321.5 L521.1,319.5 L521.6,323.5 L522.0,323.6 L522.3,323.4 L522.7,325.7 L523.0,326.8 L523.3,331.7 L523.7,332.8 L524.0,332.9 L524.3,334.2 L524.7,336.7 L525.0,337.6 L525.4,336.7 L525.7,332.5 L526.1,332.2 L526.4,329.8 L526.8,328.6 L527.2,329.2 L527.6,327.1 L528.0,323.8 L528.4,322.3 L528.9,322.7 L529.3,321.7 L529.7,318.5 L530.1,319.8 L530.5,318.0 L531.0,319.4 L531.4,322.3 L531.9,322.5 L532.3,322.2 L532.8,324.1 L533.3,326.3 L533.9,324.4 L534.5,323.9 L535.0,325.6 L535.2,321.6 L535.4,323.1 L535.6,319.8 L535.8,316.3 L535.9,313.8 L536.1,314.2 L536.3,309.4 L536.5,309.0 L536.7,306.4 L537.0,305.3 L537.2,304.9 L537.4,302.1 L537.6,299.2 L537.8,299.1 L538.1,295.8 L538.3,293.3 L538.7,294.2 L539.1,295.6 L539.5,297.7 L539.9,298.0 L540.3,300.0 L540.7,301.9 L541.1,303.9 L541.5,306.8 L541.8,307.8 L542.2,308.7 L542.6,310.5 L542.9,307.2 L543.1,306.7 L543.4,304.7 L543.7,301.7 L544.0,301.9 L544.2,299.3 L544.5,298.3 L544.8,294.8 L545.0,295.1 L545.2,300.1 L545.4,299.5 L545.7,302.0 L545.9,304.4 L546.1,307.1 L546.3,309.0 L546.9,306.7 L547.5,309.4 L548.0,306.6 L548.6,306.0 L549.1,308.1 L549.7,306.6 L550.2,308.3 L550.8,309.8 L551.2,310.2 L551.6,311.9 L552.0,312.1 L552.3,315.5 L552.7,315.4 L553.1,318.0 L553.6,316.0 L554.0,314.8 L554.5,313.1 L555.0,313.6 L555.0,312.9 L555.0,309.2 L555.1,307.9 L555.1,303.6 L555.1,302.8 L555.1,300.5 L555.1,299.7 L555.2,296.5 L555.2,295.3 L555.2,291.8 L555.2,291.7 L555.2,289.5 L555.2,285.2 L555.3,284.3 L555.3,282.7 L555.3,281.6 L555.3,278.9 L555.3,276.3 L555.4,274.1 L555.4,273.9 L555.4,270.3 L555.4,269.5 L555.4,267.1 L555.5,262.4 L555.5,262.3 L555.5,260.0 L555.5,259.0 L555.6,254.8 L555.6,255.0 L555.6,250.2 L555.7,249.9 L555.7,248.3 L555.7,245.4 L555.7,244.2 L555.8,241.7 L555.8,240.5 L555.8,235.9 L555.9,235.2 L555.9,235.0 L555.9,230.1 L556.0,228.0 L556.0,227.1 L556.0,224.5 L556.1,222.0 L556.1,221.8 L556.1,217.7 L556.1,214.8 L556.2,214.0 L556.2,212.4 L556.2,209.8 L556.3,207.1 L556.3,206.2 L556.4,208.4 L556.6,209.5 L556.7,211.9 L556.9,213.6 L557.0,217.4 L557.1,219.1 L557.3,220.7 L557.4,224.0 L557.5,225.8 L557.7,226.1 L557.8,226.7 L558.0,228.8 L558.1,231.2 L558.2,234.7 L558.4,236.4 L558.5,239.1 L558.7,239.4 L558.8,242.5 L558.8,243.2 L558.8,245.5 L558.7,247.1 L558.7,252.4 L558.7,253.3 L558.7,256.3 L558.6,255.4 L558.6,259.5 L558.6,262.1 L558.6,261.8 L558.6,264.2 L558.5,265.6 L558.5,268.3 L558.5,271.0 L559.0,269.3 L559.5,272.0 L560.0,268.0 L560.5,269.9 L561.0,268.9 L561.1,271.1 L561.2,272.9 L561.3,274.9 L561.4,275.7 L561.5,277.8 L561.6,283.2 L561.7,283.5 L561.8,285.5 L562.2,283.5 L562.7,282.7 L563.1,279.8 L563.6,281.3 L564.0,278.5 L564.2,280.5 L564.5,280.8 L564.8,285.5 L565.0,284.9 L565.2,286.0 L565.5,291.4 L565.8,293.1 L566.0,291.6 L566.2,295.0 L566.5,297.0 L566.9,299.7 L567.2,301.6 L567.6,300.6 L567.9,302.5 L568.3,306.9 L568.6,307.4 L569.0,309.3 L569.5,310.5 L570.0,312.1 L570.5,313.0 L571.0,313.4 L571.5,313.7 L572.0,316.1 L572.5,318.7 L573.0,319.2 L573.5,318.7 L574.0,318.1 L574.5,319.1 L575.0,321.4 L575.6,321.5 L576.1,321.3 L576.7,321.5 L577.3,321.4 L577.7,322.4 L578.0,324.0 L578.4,324.5 L578.8,328.8 L579.2,330.4 L579.5,332.1 L579.9,333.0 L580.3,333.4 L580.8,333.1 L581.2,332.3 L581.7,329.4 L582.1,328.8 L582.6,328.2 L582.7,325.4 L582.8,322.6 L582.9,321.2 L583.0,321.3 L583.1,316.6 L583.2,316.6 L583.4,312.5 L583.5,313.0 L583.6,309.7 L583.7,308.1 L583.8,304.4 L583.9,304.0 L584.0,300.7 L584.1,300.3 L584.3,303.2 L584.4,303.0 L584.6,304.9 L584.7,307.2 L584.9,312.1 L585.0,313.4 L585.2,314.2 L585.4,317.8 L585.5,318.8 L585.7,320.7 L585.8,323.3 L586.0,325.0 L586.1,324.9 L586.3,328.2 L586.5,326.8 L586.6,322.8 L586.8,323.8 L587.0,321.0 L587.1,319.2 L587.3,315.8 L587.5,315.1 L587.6,311.3 L587.8,310.0 L588.1,308.5 L588.5,305.3 L588.8,306.3 L589.1,304.9 L589.4,300.9 L589.8,299.4 L590.1,298.8 L590.3,302.2 L590.5,303.3 L590.7,305.4 L591.0,306.8 L591.2,309.2 L591.4,308.2 L591.6,311.6 L592.0,311.4 L592.4,308.9 L592.7,308.2 L593.1,305.5 L593.5,302.6 L593.9,302.2 L594.2,300.9 L594.6,299.5 L594.8,300.4 L595.1,304.7 L595.3,304.6 L595.5,306.5 L595.8,309.1 L596.0,312.4 L596.2,313.9 L596.4,316.4 L596.7,316.3 L596.9,319.1 L597.3,319.9 L597.7,323.3 L598.0,324.7 L598.4,324.5 L598.8,325.9 L599.1,324.0 L599.3,321.0 L599.6,319.0 L599.8,316.5 L600.1,318.2 L600.4,315.8 L600.6,312.2 L600.9,311.1 L601.1,309.0 L601.4,307.1 L602.0,308.4 L602.5,307.0 L603.0,306.4 L603.6,305.6 L603.8,309.3 L604.0,310.2 L604.2,311.1 L604.4,314.2 L604.5,315.5 L604.7,319.3 L604.9,320.7 L605.1,321.4 L605.6,322.0 L606.2,323.2 L606.7,323.6 L607.3,321.3 L607.8,322.2 L608.4,325.5 L608.9,324.4 L609.3,326.1 L609.7,325.4 L610.0,329.5 L610.4,329.1 L610.8,330.5 L611.2,332.7 L611.5,333.9 L611.9,336.3 L612.2,337.9 L612.6,340.5 L612.9,340.3 L613.4,341.9 L613.8,340.8 L614.3,344.2 L614.8,343.3 L615.2,344.9 L615.7,345.7 L616.3,343.9 L616.8,343.4 L617.4,342.4 L617.9,343.1 L618.5,343.0 L618.8,343.1 L619.1,338.9 L619.4,336.8 L619.7,336.1 L620.1,333.8 L620.4,332.6 L620.7,330.4 L621.0,331.2 L621.3,328.0 L621.6,331.0 L621.9,332.5 L622.1,331.8 L622.4,334.7 L622.7,337.2 L623.0,337.4 L623.3,341.5 L623.6,340.9 L623.9,342.5 L624.1,343.3 L624.4,347.0 L624.7,348.5 L625.2,349.8 L625.7,346.8 L626.2,347.5 L626.7,347.6 L627.2,347.7 L627.7,345.5 L628.2,345.8 L628.4,345.6 L628.6,342.6 L628.8,339.5 L629.0,338.8 L629.2,335.5 L629.4,333.4 L629.6,333.4 L629.8,330.1 L630.0,329.6 L630.2,325.5 L630.4,323.8 L630.6,323.5 L630.8,320.5 L631.0,318.2 L631.4,320.1 L631.8,322.8 L632.2,324.4 L632.6,325.4 L633.0,326.4 L633.5,327.6 L633.9,330.3 L634.4,330.0 L635.0,331.3 L635.5,331.6 L636.1,331.1 L636.6,330.8 L637.2,330.5" fill="none" stroke="#286FA0" stroke-width="3.8" stroke-linejoin="round" stroke-linecap="round"/>
<line x1="51.1" y1="301.9" x2="635.4" y2="301.9" stroke="#000" stroke-width="3.7"/><circle cx="635.4" cy="301.9" r="1.85" fill="#000"/>
<line x1="69.3" y1="78.2" x2="99.7" y2="78.2" stroke="#286FA0" stroke-width="3" stroke-linecap="round"/>
<line x1="209.2" y1="78.2" x2="239.5" y2="78.3" stroke="#000" stroke-width="3" stroke-linecap="round"/>
</svg>
<div class="yd" style="top:362.90px;transform:scale(1.0,1.0)">1</div><div class="yd" style="top:310.43px;transform:scale(1.16,1.0)">2</div><div class="yd" style="top:257.06px;transform:scale(1.16,1.22)">3</div><div class="yd" style="top:204.59px;transform:scale(1.16,1.22)">4</div><div class="yd" style="top:152.12px;transform:scale(1.16,1.22)">5</div><div class="yd" style="top:97.05px;transform:scale(1.16,1.22)">6</div><div class="yd" style="top:47.18px;transform:scale(1.16,1.22)">7</div>
<div class="xl" style="left:21.8px"><span style="margin-right:1.3px">&#39;</span>86</div><div class="xl" style="left:51.3px"><span style="margin-right:1.3px">&#39;</span>88</div><div class="xl" style="left:80.8px"><span style="margin-right:1.3px">&#39;</span>90</div><div class="xl" style="left:110.3px"><span style="margin-right:1.3px">&#39;</span>92</div><div class="xl" style="left:139.8px"><span style="margin-right:1.3px">&#39;</span>94</div><div class="xl" style="left:169.3px"><span style="margin-right:1.3px">&#39;</span>96</div><div class="xl" style="left:198.8px"><span style="margin-right:1.3px">&#39;</span>98</div><div class="xl" style="left:228.3px"><span style="margin-right:1.3px">&#39;</span>00</div><div class="xl" style="left:257.8px"><span style="margin-right:1.3px">&#39;</span>02</div><div class="xl" style="left:287.3px"><span style="margin-right:1.3px">&#39;</span>04</div><div class="xl" style="left:316.8px"><span style="margin-right:1.3px">&#39;</span>06</div><div class="xl" style="left:346.3px"><span style="margin-right:1.3px">&#39;</span>08</div><div class="xl" style="left:375.8px"><span style="margin-right:1.3px">&#39;</span>10</div><div class="xl" style="left:405.3px"><span style="margin-right:1.3px">&#39;</span>12</div><div class="xl" style="left:434.8px"><span style="margin-right:1.3px">&#39;</span>14</div><div class="xl" style="left:464.3px"><span style="margin-right:1.3px">&#39;</span>16</div><div class="xl" style="left:493.8px"><span style="margin-right:1.3px">&#39;</span>18</div><div class="xl" style="left:523.3px"><span style="margin-right:1.3px">&#39;</span>20</div><div class="xl" style="left:552.8px"><span style="margin-right:1.3px">&#39;</span>22</div><div class="xl" style="left:582.3px"><span style="margin-right:1.3px">&#39;</span>24</div>
<div class="lg" style="left:103px">BAA Spread</div>
<div class="lg" style="left:243px">Average</div>
<span class="sw" style="left:16.60px">Source:</span><span class="sw" style="left:75.00px">St.</span><span class="sw" style="left:97.00px">Louis</span><span class="sw" style="left:140.60px">Federal</span><span class="sw" style="left:200.60px">Reserve,</span><span class="sw" style="left:268.00px">weekly</span><span class="sw" style="left:324.40px">data</span><span class="sw" style="left:360.80px">through</span><span class="sw" style="left:422.00px;letter-spacing:2.1px">8/8/2025</span>
</body></html>
